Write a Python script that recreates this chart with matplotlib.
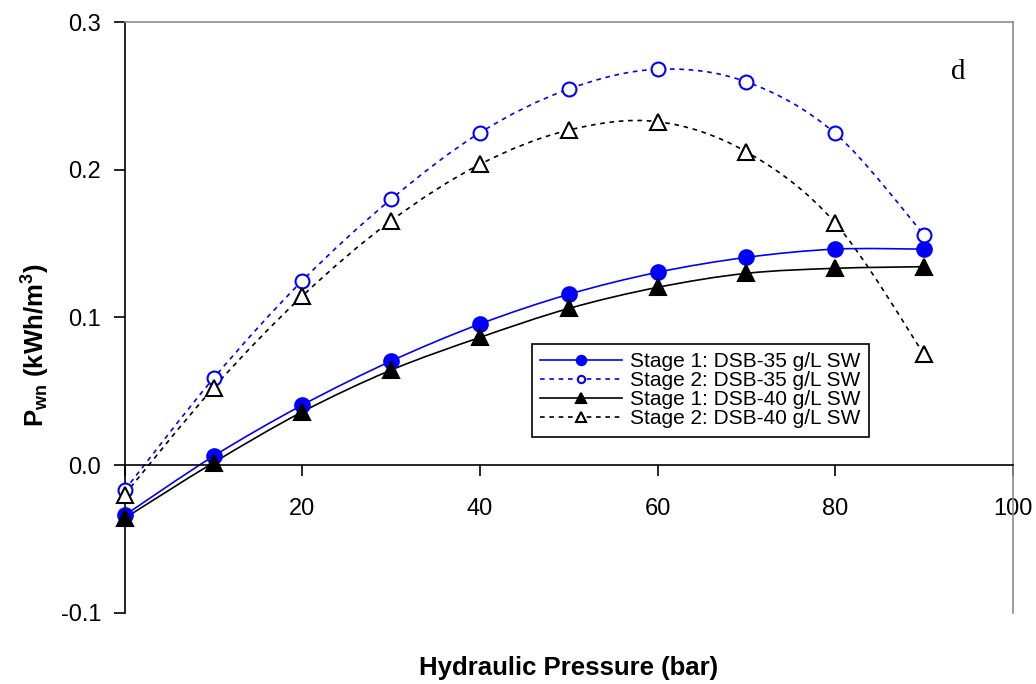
import matplotlib
matplotlib.use('Agg')
import matplotlib.pyplot as plt
from matplotlib.path import Path
from matplotlib.patches import PathPatch
from matplotlib.lines import Line2D
import numpy as np

plt.rcParams['font.family'] = ['Liberation Sans', 'DejaVu Sans']
plt.rcParams['mathtext.fontset'] = 'custom'
plt.rcParams['mathtext.rm'] = 'Liberation Sans'
plt.rcParams['mathtext.bf'] = 'Liberation Sans:bold'

# ---- data ----
pressure = [0, 10, 20, 30, 40, 50, 60, 70, 80, 90]
stage1_35 = [-0.034, 0.006, 0.0406, 0.0704, 0.0955, 0.1156, 0.1305, 0.1406, 0.1462, 0.1462]
stage2_35 = [-0.017, 0.0587, 0.1248, 0.180, 0.225, 0.2546, 0.268, 0.2595, 0.2246, 0.156]
stage1_40 = [-0.036, 0.0016, 0.036, 0.0643, 0.0864, 0.106, 0.1203, 0.1298, 0.1332, 0.1343]
stage2_40 = [-0.020, 0.0523, 0.1144, 0.1654, 0.2036, 0.2268, 0.2325, 0.2121, 0.164, 0.0751]
labels = ['Stage 1: DSB-35 g/L SW', 'Stage 2: DSB-35 g/L SW',
          'Stage 1: DSB-40 g/L SW', 'Stage 2: DSB-40 g/L SW']
xticks = [0, 20, 40, 60, 80, 100]
xticklabels = ['', '20', '40', '60', '80', '100']
yticks = [-0.1, 0.0, 0.1, 0.2, 0.3]


def smooth_path(x, y):
    pts = np.column_stack([x, y]).astype(float)
    n = len(pts)
    verts = [pts[0]]
    codes = [Path.MOVETO]
    for i in range(n - 1):
        p0 = pts[i - 1] if i > 0 else pts[i]
        p1 = pts[i]
        p2 = pts[i + 1]
        p3 = pts[i + 2] if i + 2 < n else pts[i + 1]
        c1 = p1 + (p2 - p0) / 6.0
        c2 = p2 - (p3 - p1) / 6.0
        verts += [c1, c2, p2]
        codes += [Path.CURVE4] * 3
    return Path(verts, codes)


fig = plt.figure(figsize=(10.36, 6.84), dpi=100)
ax = fig.add_axes([124.7 / 1036, 1 - 612.7 / 684, (1012.7 - 124.7) / 1036, (612.7 - 22) / 684])
ax.set_xlim(0, 100)
ax.set_ylim(-0.1, 0.3)

dash = (0, (2.8, 2.8))
series = [
    (stage1_35, '#0000FF', '-', 'o', '#0000FF', 10.5, 9.0),
    (stage2_35, '#0000FF', dash, 'o', 'white', 10.0, 7.0),
    (stage1_40, '#000000', '-', '^', '#000000', 11.0, 10.0),
    (stage2_40, '#000000', dash, '^', 'white', 11.0, 9.0),
]

handles = []
for (vals, col, ls, mk, mfc, ms, lms), lab in zip(series, labels):
    patch = PathPatch(smooth_path(pressure, vals), fill=False, edgecolor=col,
                      lw=1.2, linestyle=ls, zorder=2, clip_on=False)
    ax.add_patch(patch)
    ax.plot(pressure, vals, linestyle='none', marker=mk, ms=ms, mfc=mfc,
            mec=col, mew=1.5, zorder=3, clip_on=False)
    handles.append(Line2D([], [], color=col, lw=1.2, linestyle=ls, marker=mk,
                          ms=lms * 0.75, mfc=mfc, mec=col, mew=1.5))

# spines
ax.spines['bottom'].set_position(('data', 0))
ax.spines['bottom'].set_color('black')
ax.spines['left'].set_color('black')
ax.spines['bottom'].set_linewidth(1.2)
ax.spines['left'].set_linewidth(1.2)
ax.spines['top'].set_color('#8c8c8c')
ax.spines['right'].set_color('#8c8c8c')
ax.spines['top'].set_linewidth(1.2)
ax.spines['right'].set_linewidth(1.2)

ax.set_xticks(xticks)
ax.set_xticklabels(xticklabels)
ax.set_yticks(yticks)
ax.set_yticklabels(['%.1f' % v for v in yticks])
ax.tick_params(axis='x', direction='out', length=8, width=1.2, pad=15.5, labelsize=17)
ax.tick_params(axis='y', direction='out', length=8, width=1.2, pad=9, labelsize=17)
ax.tick_params(top=False, right=False)

fig.text(568.7 / 1036, 1 - 668 / 684, 'Hydraulic Pressure (bar)', ha='center', va='center',
         fontsize=18.5, fontweight='bold')
fig.text(35 / 1036, 1 - 345 / 684, r'$\mathbf{P_{wn}}$ (kWh/m$^\mathbf{3}$)', ha='center', va='center',
         rotation=90, fontsize=18.5, fontweight='bold')
fig.text(958 / 1036, 1 - 72 / 684, 'd', ha='center', va='center', fontsize=21,
         family=['Liberation Serif', 'DejaVu Serif'])

leg = fig.legend(handles, labels, loc='upper left',
                 bbox_to_anchor=(532 / 1036, 1 - 344 / 684), fontsize=15,
                 frameon=True, fancybox=False, shadow=False, framealpha=1,
                 edgecolor='black', borderpad=0.4, labelspacing=0.0,
                 handlelength=3.9, handletextpad=0.4, borderaxespad=0)
leg.get_frame().set_linewidth(1.2)

fig.savefig('out.png', dpi=100)
